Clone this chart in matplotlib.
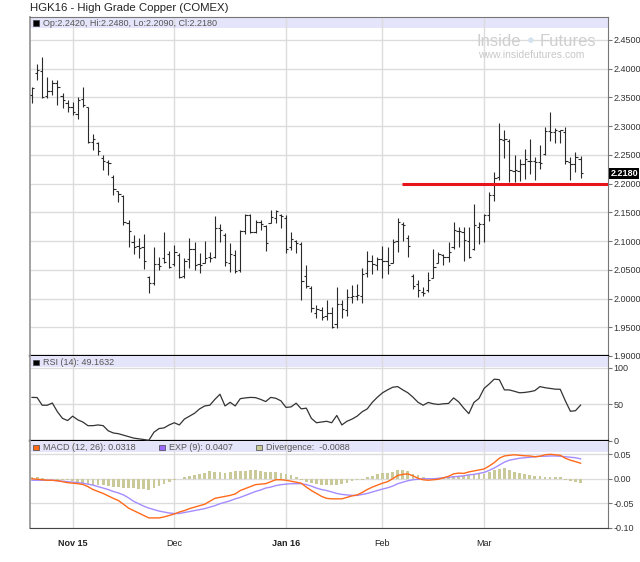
import matplotlib
matplotlib.use("Agg")
import matplotlib.pyplot as plt
from matplotlib.patches import Rectangle

plt.rcParams['font.family'] = ['Liberation Sans', 'DejaVu Sans']

# === PRICE BARS (daily, HGK16) ===
OPEN = [2.354, 2.392, 2.396, 2.352, 2.362, 2.376, 2.352, 2.340, 2.333, 2.322,
        2.347, 2.334, 2.272, 2.270, 2.245, 2.238, 2.212, 2.188, 2.178, 2.132,
        2.098, 2.092, 2.090, 2.038, 2.027, 2.060, 2.070, 2.078, 2.060, 2.075,
        2.040, 2.068, 2.086, 2.060, 2.062, 2.072, 2.072, 2.122, 2.110, 2.062,
        2.076, 2.050, 2.118, 2.145, 2.116, 2.134, 2.127, 2.132, 2.140, 2.146,
        2.140, 2.090, 2.100, 2.095, 2.040, 2.018, 1.975, 1.980, 1.970, 1.975,
        1.955, 1.990, 1.980, 2.003, 2.005, 2.005, 2.045, 2.066, 2.058, 2.068,
        2.066, 2.062, 2.100, 2.130, 2.105, 2.040, 2.025, 2.012, 2.015, 2.035,
        2.062, 2.075, 2.073, 2.090, 2.118, 2.115, 2.100, 2.086, 2.125, 2.130,
        2.145, 2.180, 2.212, 2.276, 2.275, 2.222, 2.222, 2.235, 2.240, 2.240,
        2.238, 2.252, 2.292, 2.290, 2.292, 2.290, 2.238, 2.235, 2.242]
HIGH = [2.368, 2.408, 2.421, 2.385, 2.381, 2.381, 2.357, 2.346, 2.342, 2.351,
        2.368, 2.334, 2.287, 2.273, 2.249, 2.241, 2.215, 2.188, 2.180, 2.137,
        2.111, 2.105, 2.112, 2.040, 2.090, 2.073, 2.115, 2.082, 2.094, 2.079,
        2.070, 2.105, 2.099, 2.079, 2.100, 2.081, 2.143, 2.129, 2.114, 2.096,
        2.085, 2.119, 2.148, 2.148, 2.137, 2.137, 2.128, 2.154, 2.154, 2.148,
        2.145, 2.116, 2.102, 2.099, 2.058, 2.021, 1.989, 1.986, 1.998, 1.986,
        2.020, 1.997, 2.017, 2.024, 2.025, 2.054, 2.083, 2.075, 2.072, 2.092,
        2.089, 2.104, 2.140, 2.133, 2.110, 2.043, 2.032, 2.020, 2.046, 2.086,
        2.081, 2.078, 2.098, 2.133, 2.124, 2.124, 2.124, 2.164, 2.133, 2.147,
        2.185, 2.221, 2.306, 2.294, 2.278, 2.249, 2.243, 2.261, 2.278, 2.246,
        2.267, 2.299, 2.325, 2.296, 2.293, 2.298, 2.246, 2.255, 2.248]
LOW = [2.341, 2.381, 2.349, 2.349, 2.354, 2.337, 2.331, 2.325, 2.319, 2.313,
       2.333, 2.270, 2.258, 2.249, 2.223, 2.215, 2.180, 2.168, 2.128, 2.090,
       2.078, 2.070, 2.052, 2.009, 2.024, 2.050, 2.062, 2.053, 2.056, 2.035,
       2.035, 2.053, 2.050, 2.044, 2.061, 2.064, 2.070, 2.099, 2.056, 2.047,
       2.044, 2.047, 2.112, 2.114, 2.114, 2.119, 2.082, 2.131, 2.131, 2.122,
       2.079, 2.085, 2.079, 1.998, 2.018, 1.977, 1.966, 1.963, 1.963, 1.949,
       1.949, 1.966, 1.970, 1.992, 1.998, 1.992, 2.038, 2.043, 2.049, 2.035,
       2.043, 2.061, 2.081, 2.101, 2.072, 2.017, 2.003, 2.004, 2.012, 2.035,
       2.061, 2.058, 2.064, 2.087, 2.089, 2.066, 2.070, 2.084, 2.095, 2.098,
       2.135, 2.170, 2.207, 2.245, 2.202, 2.202, 2.205, 2.208, 2.217, 2.207,
       2.226, 2.249, 2.275, 2.271, 2.270, 2.234, 2.207, 2.220, 2.209]
CLOSE = [2.366, 2.398, 2.351, 2.362, 2.376, 2.368, 2.345, 2.333, 2.325, 2.345,
         2.336, 2.272, 2.278, 2.256, 2.240, 2.236, 2.190, 2.182, 2.133, 2.118,
         2.090, 2.088, 2.065, 2.027, 2.060, 2.056, 2.064, 2.055, 2.081, 2.038,
         2.066, 2.086, 2.058, 2.058, 2.070, 2.071, 2.122, 2.119, 2.064, 2.077,
         2.048, 2.117, 2.145, 2.116, 2.134, 2.129, 2.096, 2.142, 2.152, 2.144,
         2.087, 2.103, 2.096, 2.030, 2.021, 1.983, 1.982, 1.968, 1.975, 1.951,
         1.990, 1.982, 2.003, 2.005, 2.007, 2.042, 2.066, 2.060, 2.068, 2.066,
         2.058, 2.099, 2.133, 2.128, 2.092, 2.022, 2.015, 2.009, 2.032, 2.055,
         2.077, 2.073, 2.081, 2.119, 2.118, 2.102, 2.073, 2.128, 2.130, 2.145,
         2.180, 2.210, 2.277, 2.278, 2.223, 2.223, 2.234, 2.242, 2.240, 2.238,
         2.236, 2.292, 2.290, 2.294, 2.293, 2.240, 2.235, 2.246, 2.218]

# === INDICATORS ===
RSI = [59.7, 59.5, 49, 49, 52, 40, 31, 28, 34, 29,
       26, 21, 21, 22, 21, 14, 11, 10, 8, 6,
       4, 3, 2, 1, 12, 17, 18, 22, 25, 22,
       30, 34, 38, 44, 48, 49, 57, 64, 48, 53,
       48, 58, 59, 59.7, 59.4, 57, 54, 59.7, 58.5, 55,
       46, 46.7, 51.8, 44, 45, 31, 25, 26, 27, 25,
       35, 22, 27, 30, 34, 40, 44, 53, 60, 66,
       70, 73.6, 74.5, 70, 66, 60, 53, 49, 52.8, 51,
       50, 51, 51.4, 59, 53.6, 45, 37.5, 52.8, 58.3, 72,
       78, 84.7, 84, 70, 69.9, 68, 66, 66.5, 67.5, 69,
       74.5, 73, 72, 71, 70.8, 55, 40.7, 41.5, 49.16]
MACD = [0.000, -0.001, -0.002, -0.003, -0.003, -0.004, -0.006, -0.008, -0.009, -0.010,
        -0.0116, -0.016, -0.022, -0.026, -0.030, -0.035, -0.040, -0.0445, -0.052, -0.060,
        -0.065, -0.070, -0.075, -0.080, -0.080, -0.080, -0.078, -0.075, -0.072, -0.068,
        -0.065, -0.061, -0.058, -0.055, -0.052, -0.046, -0.040, -0.038, -0.036, -0.034,
        -0.031, -0.024, -0.020, -0.016, -0.012, -0.011, -0.010, -0.006, -0.002, -0.002,
        -0.003, -0.005, -0.007, -0.009, -0.017, -0.024, -0.030, -0.036, -0.040, -0.041,
        -0.041, -0.041, -0.038, -0.035, -0.033, -0.028, -0.022, -0.017, -0.013, -0.009,
        -0.006, 0.000, 0.0068, 0.009, 0.010, 0.006, 0.001, -0.002, -0.003, -0.002,
        -0.001, 0.002, 0.005, 0.010, 0.0116, 0.011, 0.014, 0.016, 0.018, 0.020,
        0.026, 0.033, 0.042, 0.0466, 0.048, 0.049, 0.048, 0.047, 0.0466, 0.045,
        0.046, 0.049, 0.050, 0.049, 0.048, 0.042, 0.038, 0.035, 0.0318]
EXP9 = [-0.003, -0.003, -0.003, -0.003, -0.003, -0.004, -0.005, -0.006, -0.007, -0.008,
        -0.009, -0.011, -0.013, -0.016, -0.019, -0.022, -0.026, -0.029, -0.033, -0.039,
        -0.046, -0.051, -0.056, -0.060, -0.063, -0.066, -0.068, -0.070, -0.071, -0.071,
        -0.069, -0.067, -0.065, -0.063, -0.061, -0.058, -0.055, -0.051, -0.048, -0.045,
        -0.041, -0.038, -0.034, -0.030, -0.026, -0.023, -0.019, -0.017, -0.014, -0.012,
        -0.011, -0.010, -0.010, -0.010, -0.012, -0.015, -0.019, -0.022, -0.024, -0.027,
        -0.030, -0.032, -0.033, -0.034, -0.034, -0.032, -0.030, -0.027, -0.024, -0.021,
        -0.0185, -0.015, -0.010, -0.007, -0.004, -0.002, -0.001, 0.000, 0.000, 0.000,
        0.001, 0.002, 0.003, 0.004, 0.005, 0.006, 0.008, 0.009, 0.011, 0.013,
        0.017, 0.022, 0.028, 0.034, 0.038, 0.040, 0.042, 0.043, 0.044, 0.045,
        0.046, 0.046, 0.0466, 0.0466, 0.046, 0.045, 0.044, 0.043, 0.0407]
DIVERG = [0.004, 0.004, 0.001, -0.001, -0.001, -0.002, -0.003, -0.003, -0.004, -0.006,
          -0.008, -0.010, -0.012, -0.013, -0.0137, -0.015, -0.016, -0.017, -0.018, -0.019,
          -0.019, -0.020, -0.021, -0.0226, -0.019, -0.014, -0.010, -0.006, -0.003, -0.001,
          0.003, 0.005, 0.007, 0.010, 0.012, 0.015, 0.014, 0.0137, 0.012, 0.013,
          0.0158, 0.016, 0.016, 0.017, 0.017, 0.016, 0.014, 0.0137, 0.013, 0.012,
          0.009, 0.007, 0.003, -0.002, -0.007, -0.008, -0.011, -0.012, -0.0137, -0.0137,
          -0.012, -0.010, -0.008, -0.005, -0.003, -0.002, 0.004, 0.006, 0.010, 0.011,
          0.012, 0.0137, 0.017, 0.017, 0.0158, 0.010, 0.007, 0.003, 0.001, 0.000,
          0.001, 0.002, 0.003, 0.005, 0.006, 0.006, 0.007, 0.008, 0.009, 0.010,
          0.0137, 0.017, 0.0205, 0.0226, 0.018, 0.014, 0.0116, 0.009, 0.007, 0.006,
          0.005, 0.004, 0.004, 0.004, 0.0034, -0.002, -0.005, -0.007, -0.0088]

MONTH_POS = [8, 28, 50, 69, 89]
MONTH_LABELS = ["Nov 15", "Dec", "Jan 16", "Feb", "Mar"]
MONTH_BOLD = [True, False, True, False, False]
PRICE_TICKS = [1.90, 1.95, 2.00, 2.05, 2.10, 2.15, 2.20, 2.25, 2.30, 2.35, 2.40, 2.45]
RSI_TICKS = [0, 50, 100]
MACD_TICKS = [-0.10, -0.05, 0.00, 0.05]
SUPPORT = 2.20
SUPPORT_START = 72.8
LAST_CLOSE = "2.2180"

# === LAYOUT (pixels) ===
W, H = 640, 562
GRID = '#dcdcdc'
BAND = '#e4e4fa'
BAR = '#2a2a2a'
fig = plt.figure(figsize=(W / 100, H / 100), dpi=100, facecolor='white')

def box(top, bottom):
    return [30 / W, 1 - bottom / H, 578 / W, (bottom - top) / H]

def px(x, y):
    return x / W, 1 - y / H

ax1 = fig.add_axes(box(17, 356))
ax2 = fig.add_axes(box(356, 441))
ax3 = fig.add_axes(box(441, 527.7))
idx = list(range(len(CLOSE)))

for ax, top, bottom in [(ax1, 17, 356), (ax2, 356, 441), (ax3, 441, 527.7)]:
    ax.set_xlim(-0.4, 113.4)
    ax.set_xticks(MONTH_POS)
    ax.yaxis.tick_right()
    ax.tick_params(axis='y', direction='out', length=3, width=0.8, color='#777',
                   labelsize=6.5, labelcolor='#333', pad=1)
    ax.tick_params(axis='x', length=0)
    ax.grid(True, color=GRID, lw=1, zorder=1)
    ax.set_axisbelow(True)
    band = 11 / (bottom - top)
    ax.add_patch(Rectangle((0, 1 - band), 1, band, transform=ax.transAxes,
                           fc=BAND, ec='none', zorder=0.5))
    for s in ['left', 'right', 'top']:
        ax.spines[s].set_color('#777')
    ax.spines['left'].set_color('#9a9a9a')
    ax.spines['left'].set_linewidth(1.3)
for ax in (ax1, ax2):
    ax.set_xticklabels([])
    ax.spines['bottom'].set_color('black')
    ax.spines['bottom'].set_linewidth(1.6)
ax2.spines['top'].set_visible(False)
ax3.spines['top'].set_visible(False)
ax3.spines['bottom'].set_color('#444')

# price panel
ax1.set_ylim(1.90, 2.490)
ax1.set_yticks(PRICE_TICKS)
ax1.set_yticklabels([f"{v:.4f}" for v in PRICE_TICKS])
ax1.vlines(idx, LOW, HIGH, color=BAR, lw=0.8, zorder=3)
ax1.hlines(OPEN, [i - 0.45 for i in idx], idx, color=BAR, lw=0.8, zorder=3)
ax1.hlines(CLOSE, idx, [i + 0.45 for i in idx], color=BAR, lw=0.8, zorder=3)
ax1.hlines(SUPPORT, SUPPORT_START, 113.4, color='#e8141c', lw=2.2, zorder=4)
ax1.text(1.004, float(LAST_CLOSE), LAST_CLOSE, transform=ax1.get_yaxis_transform(),
         fontsize=6.5, color='white', fontweight='bold', va='center', ha='left',
         bbox=dict(boxstyle='square,pad=0.12', fc='black', ec='none'), zorder=6)

# RSI panel
ax2.set_ylim(0, 116.4)
ax2.set_yticks(RSI_TICKS)
ax2.set_yticklabels([str(v) for v in RSI_TICKS])
ax2.plot(idx, RSI, color='#333', lw=0.9, zorder=3)

# MACD panel
ax3.set_ylim(-0.10, 0.0772)
ax3.set_yticks(MACD_TICKS)
ax3.set_yticklabels([f"{v:.2f}".replace('-0.00', '0.00') for v in MACD_TICKS])
ax3.bar(idx, DIVERG, width=0.55, color='#c9c99a', zorder=2)
ax3.plot(idx, EXP9, color='#a48cff', lw=1.0, zorder=3)
ax3.plot(idx, MACD, color='#ff6a1a', lw=1.0, zorder=4)
ax3.set_xticklabels(MONTH_LABELS, fontsize=6.5, color='#222')
ax3.tick_params(axis='x', pad=8)
for lab, bold in zip(ax3.get_xticklabels(), MONTH_BOLD):
    lab.set_fontweight('bold' if bold else 'normal')

# === TEXTS ===
fig.text(*px(30, 8), "HGK16 - High Grade Copper (COMEX)", fontsize=8.2,
         color='#222', va='center', ha='left')

def square(x, y, color):
    fig.add_artist(Rectangle(px(x, y + 5.5), 5.5 / W, 5.5 / H, transform=fig.transFigure,
                             fc=color, ec='#444', lw=0.5))

square(33, 20.5, 'black')
fig.text(*px(43, 23), "Op:2.2420, Hi:2.2480, Lo:2.2090, Cl:2.2180", fontsize=6.5,
         color='#555', va='center')
square(33, 359.5, 'black')
fig.text(*px(43, 362.5), "RSI (14): 49.1632", fontsize=6.5, color='#555', va='center')
square(33, 444.5, '#ff6a1a')
fig.text(*px(43, 447.5), "MACD (12, 26): 0.0318", fontsize=6.5, color='#555', va='center')
square(159, 444.5, '#9966ff')
fig.text(*px(169, 447.5), "EXP (9): 0.0407", fontsize=6.5, color='#555', va='center')
square(256, 444.5, '#c9c99a')
fig.text(*px(266, 447.5), "Divergence:  -0.0088", fontsize=6.5, color='#555', va='center')

# watermark
fig.text(*px(477, 41), "Inside", fontsize=12, color='#cfcfcf', va='center', ha='left')
fig.text(*px(530.5, 41), "\u25CF", fontsize=9, color='#d5e3f1', va='center', ha='center')
fig.text(*px(540, 41), "Futures", fontsize=12, color='#cfcfcf', va='center', ha='left')
fig.text(*px(478, 55), "www.insidefutures.com", fontsize=7.5, color='#c8c8c8', va='center',
         ha='left')

fig.savefig('out.png', dpi=100, facecolor='white')
